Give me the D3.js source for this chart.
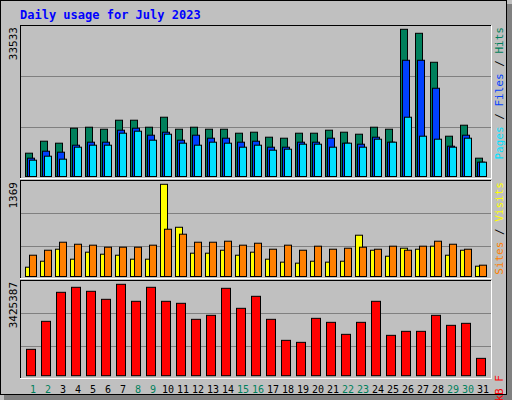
<!DOCTYPE html><html><head><script src="https://cdn.jsdelivr.net/npm/d3@7"></script>
<style>body{margin:0;background:#fff}</style></head><body><svg id="c" width="512" height="400"></svg>
<script>
const days=d3.range(1,32);
const weekend=[1,2,8,9,15,16,22,23,29,30];
const hits=[5311,8042,7587,11001,11229,10773,12822,12822,11229,13505,10773,11229,10773,10773,9863,10091,8953,8725,9863,9863,10546,10091,9635,11229,10773,33533,32623,26023,9180,11684,4173];
const files=[4173,5766,5538,7132,7815,7815,10546,11001,9408,10091,8270,9408,8725,8725,7815,8042,6676,6676,7815,7815,8725,7587,7359,8953,7815,26478,26478,20105,6904,9408,3262];
const pages=[3718,4628,3945,6676,7132,7132,9863,10318,8270,9635,7587,7132,7815,7587,6676,7132,5994,6221,7359,7359,6676,7587,6676,8497,7815,13505,9180,8497,6676,8725,3262];
const visits=[138,227,405,257,361,331,316,257,257,1369,731,346,346,390,316,361,257,213,198,227,213,227,613,390,301,420,405,450,316,390,153];
const sites=[316,390,509,479,465,435,435,435,465,702,628,509,509,524,465,494,405,465,390,450,405,420,435,405,450,390,450,524,479,405,168];
const kbytes=[987600,2037700,3125300,3312800,3162800,2862700,3425387,2787700,3312800,2787700,2712700,2112700,2262700,3275300,2525200,2975200,2112700,1325100,1250100,2150200,2000200,1550100,2000200,2787700,1512600,1662600,1662600,2262700,1887700,1962700,650100];
const maxLabels=["33533","1369","3425387"];
const svg=d3.select("#c");
const F="'DejaVu Sans Mono',monospace";
svg.append("rect").attr("width",512).attr("height",400).attr("fill","#c0c0c0");
svg.append("rect").attr("x",507).attr("y",4).attr("width",5).attr("height",396).attr("fill","#808080");
svg.append("rect").attr("x",4).attr("y",395).attr("width",508).attr("height",5).attr("fill","#808080");
svg.append("rect").attr("x",0.5).attr("y",0.5).attr("width",506).attr("height",394).attr("fill","none").attr("stroke","#000");
svg.append("text").attr("x",20).attr("y",19).attr("fill","#0000ff").attr("font-family",F).attr("font-weight","bold").attr("font-size",12).text("Daily usage for July 2023");
const x=d3.scaleLinear().domain([1,32]).range([25,490]);
function panel(y0,y1){
  svg.append("line").attr("x1",20).attr("x2",491).attr("y1",y0).attr("y2",y0).attr("stroke","#000");
  svg.append("line").attr("x1",20.5).attr("x2",20.5).attr("y1",y0).attr("y2",y1).attr("stroke","#000");
  svg.append("line").attr("x1",20).attr("x2",492).attr("y1",y1+0.5).attr("y2",y1+0.5).attr("stroke","#fff");
  svg.append("line").attr("x1",491.5).attr("x2",491.5).attr("y1",y0).attr("y2",y1).attr("stroke","#fff");
}
panel(25.5,178);panel(180.5,278);panel(280.5,378);
function grid(ys){ys.forEach(g=>svg.append("line").attr("x1",21).attr("x2",491).attr("y1",g+0.5).attr("y2",g+0.5).attr("stroke","#808080"));}
grid([76,127,213,246,313,346]);
const yT=d3.scaleLinear().domain([0,33533]).range([176.5,29.3]);
const yM=d3.scaleLinear().domain([0,1369]).range([276.5,184.3]);
const yB=d3.scaleLinear().domain([0,3425387]).range([375.7,284.3]);
function bars(data,y,off,w,col){
  svg.append("g").selectAll("rect").data(data).join("rect")
   .attr("x",(d,i)=>x(days[i])+off+0.5).attr("width",w).attr("y",d=>y(d)).attr("height",d=>y(0)-y(d))
   .attr("fill",col).attr("stroke","#000");
}
bars(hits,yT,0,7,"#00805c");bars(files,yT,2,7,"#0040ff");bars(pages,yT,4,7,"#00e0ff");
bars(visits,yM,0,7,"#ffff00");bars(sites,yM,4,7,"#ff8000");
bars(kbytes,yB,1,9,"#ff0000");
function vlab(t,xx,yy){svg.append("text").attr("transform",`translate(${xx},${yy}) rotate(-90)`).attr("text-anchor","end").attr("font-family",F).attr("font-size",11).attr("fill","#000").text(t);}
vlab(maxLabels[0],17,27);vlab(maxLabels[1],17,182);vlab(maxLabels[2],17,282);
function rlab(parts,yy){const t=svg.append("text").attr("transform",`translate(503,${yy}) rotate(-90)`).attr("text-anchor","end").attr("font-family",F).attr("font-size",11);
 parts.forEach(p=>t.append("tspan").attr("fill",p[1]).text(p[0]));}
rlab([["Pages","#00e0ff"],[" / ","#000"],["Files","#0040ff"],[" / ","#000"],["Hits","#00805c"]],27);
rlab([["Sites","#ff8000"],[" / ","#000"],["Visits","#ffff00"]],182);
rlab([["kB F","#ff0000"]],375);
svg.append("g").selectAll("text").data(days).join("text").attr("x",d=>x(d)+8).attr("y",393).attr("text-anchor","middle")
 .attr("font-family",F).attr("font-size",10).attr("fill",d=>weekend.includes(d)?"#00805c":"#000").text(d=>d);
</script></body></html>
